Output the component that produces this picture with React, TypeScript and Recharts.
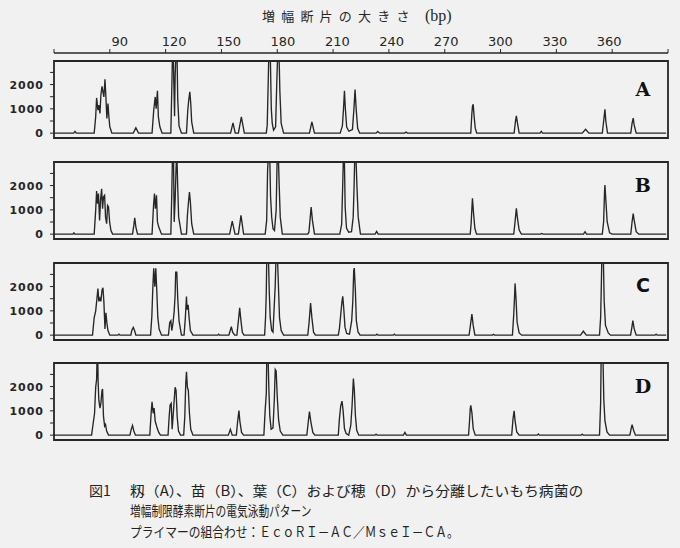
import React from "react";
import {
  LineChart, Line, XAxis, YAxis, ReferenceArea, ReferenceDot,
} from "recharts";

// fragment size (bp) axis and signal axis
const SIZE_TICKS = [60, 90, 120, 150, 180, 210, 240, 270, 300, 330, 360, 390];
const SIGNAL_TICKS = [0, 500, 1000, 1500, 2000, 2500];
const PANEL_NAMES = ["A", "B", "C", "D"];

// traces: [size in bp, signal]
// peaks running off the top are saturated, clipped by the plot box
const traceA: [number, number][] = [
  [60, 0], [70.6, 0], [71.3, 70], [72, 0],
  [81.6, 0], [82.4, 670], [82.9, 1450], [83.6, 945], [84.1, 1150], [84.7, 810], [85.2, 1560], [85.8, 1930],
  [86.3, 1700], [86.8, 1490], [87.4, 2220], [87.9, 1490], [88.4, 600], [89.0, 1220], [89.5, 670], [90.0, 260], [91.1, 0],
  [102.6, 0], [104.0, 220], [105.4, 0],
  [112.7, 0], [113.6, 945], [114.4, 1490], [114.9, 1010], [115.6, 1740], [116.1, 670], [116.9, 260], [118.1, 0],
  [122.8, 0], [123.3, 1800], [123.7, 3400], [124.1, 3400], [124.4, 2100], [124.8, 700], [125.1, 2300], [125.6, 3400],
  [126.1, 3400], [126.5, 1400], [127.2, 300], [128.5, 0],
  [131.2, 0], [131.9, 945], [132.4, 1355], [133.0, 1700], [133.5, 1220], [134.0, 465], [135.1, 0],
  [154.9, 0], [156.2, 425], [157.4, 0], [159.1, 0], [160.7, 670], [162.3, 0],
  [174.1, 0], [174.6, 330], [175.1, 2000], [175.5, 3400], [176.2, 3400], [176.8, 1000], [177.3, 400], [178.0, 120],
  [179.1, 260], [179.8, 2250], [180.3, 3400], [180.9, 3400], [181.4, 1700], [182.1, 400], [183.4, 0],
  [197.3, 0], [198.6, 465], [200.0, 0],
  [213.8, 0], [215.0, 300], [215.6, 1000], [216.1, 1740], [216.6, 1000], [217.3, 250], [218.5, 80], [220.4, 150],
  [221.2, 1000], [221.8, 1800], [222.4, 1000], [223.2, 200], [224.3, 0],
  [233.1, 0], [234.0, 70], [235.0, 0],
  [248.4, 0], [249.2, 40], [250.0, 0],
  [284.0, 0], [284.6, 820], [284.9, 1095], [285.3, 1190], [285.8, 685], [286.4, 205], [287.2, 0],
  [307.3, 0], [308.0, 480], [308.5, 710], [309.1, 410], [310.0, 0],
  [321.2, 0], [321.9, 70], [322.6, 0],
  [343.9, 0], [345.7, 160], [347.5, 0],
  [354.7, 0], [355.5, 550], [356.1, 985], [356.6, 480], [357.5, 0],
  [370.0, 0], [370.7, 410], [371.3, 616], [371.8, 340], [372.9, 0],
  [389, 0],
];

const traceB: [number, number][] = [
  [60, 0], [70.2, 0], [70.7, 50], [71.2, 0],
  [81.6, 0], [82.4, 980], [82.9, 1776], [83.4, 1250], [83.9, 1670], [84.5, 565], [85.0, 1390], [85.6, 1870],
  [86.1, 1050], [86.6, 1530], [87.2, 1600], [87.7, 700], [88.3, 430], [88.8, 1180], [89.3, 1115], [89.9, 500], [90.6, 150], [91.5, 0],
  [102.2, 0], [102.9, 360], [103.4, 675], [104.0, 290], [104.9, 0],
  [112.7, 0], [113.5, 1180], [114.0, 1670], [114.5, 1050], [115.1, 1600], [115.6, 500], [116.3, 290], [117.8, 0],
  [122.8, 0], [123.3, 1670], [123.7, 3400], [124.2, 3400], [124.6, 500], [125.1, 1390], [125.6, 2700], [126.0, 3400],
  [126.5, 1940], [127.0, 700], [128.5, 0],
  [131.2, 0], [131.7, 770], [132.2, 1250], [132.8, 1735], [133.3, 1320], [134.0, 430], [135.1, 0],
  [154.4, 0], [155.8, 537], [157.3, 0], [159.1, 0], [160.5, 770], [161.9, 0],
  [173.5, 0], [174.3, 565], [174.8, 2630], [175.3, 3400], [175.9, 3400], [176.4, 1530], [177.0, 700], [177.7, 220],
  [178.5, 150], [179.4, 980], [180.0, 3400], [180.5, 3400], [181.0, 2080], [181.6, 700], [182.7, 0],
  [196.4, 0], [197.0, 80], [197.5, 500], [198.2, 1115], [198.9, 565], [200.0, 0],
  [213.6, 0], [214.6, 400], [215.2, 2100], [215.6, 3400], [216.0, 3400], [216.5, 1100], [217.2, 250], [218.4, 80],
  [219.9, 100], [220.8, 700], [221.3, 2000], [221.7, 3400], [222.2, 3400], [222.8, 2000], [223.5, 700], [224.7, 0],
  [232.6, 0], [233.4, 110], [234.2, 0],
  [283.7, 0], [284.2, 440], [284.6, 1060], [284.9, 1475], [285.5, 850], [286.2, 235], [287.1, 0],
  [307.1, 0], [307.8, 510], [308.5, 1060], [309.1, 650], [310.0, 165], [311.2, 0],
  [321.4, 0], [322.1, 30], [322.8, 0],
  [344.6, 0], [345.4, 100], [346.2, 0],
  [354.7, 0], [355.4, 510], [355.9, 1750], [356.1, 2020], [356.6, 1400], [357.3, 510], [358.6, 55], [360, 0],
  [370.0, 0], [370.7, 510], [371.3, 850], [371.8, 580], [372.9, 100], [374.3, 0],
  [389, 0],
];

const traceC: [number, number][] = [
  [60, 0],
  [80.7, 0], [81.6, 720], [82.4, 990], [83.1, 1520], [83.6, 1920], [84.1, 1390], [84.7, 1520], [85.2, 1390],
  [85.8, 1850], [86.3, 1950], [86.8, 1390], [87.4, 250], [87.9, 920], [88.4, 520], [89.0, 190], [90.0, 0],
  [94.3, 0], [94.9, 40], [95.5, 0],
  [101.3, 0], [101.8, 190], [102.6, 320], [103.3, 190], [104.0, 0],
  [111.9, 0], [112.6, 790], [113.1, 1920], [113.6, 2750], [114.2, 1990], [114.7, 2750], [115.2, 1920], [115.8, 720],
  [116.5, 250], [117.8, 0],
  [121.5, 0], [122.2, 520], [122.8, 590], [123.3, 190], [124.0, 520], [124.6, 990], [125.1, 1650], [125.4, 2590],
  [126.0, 2590], [126.5, 1520], [127.2, 590], [128.5, 0],
  [129.9, 0], [130.6, 720], [131.2, 1590], [131.5, 1050], [132.1, 1250], [132.6, 720], [133.3, 190], [134.7, 0],
  [148.0, 0], [148.5, 40], [149.0, 0],
  [154.0, 0], [154.8, 210], [155.3, 350], [156.0, 120], [157.1, 0],
  [158.3, 0], [159.1, 590], [159.8, 1120], [160.3, 720], [161.2, 120], [162.1, 0],
  [173.2, 0], [173.7, 720], [174.1, 1790], [174.4, 3400], [175.2, 3400], [175.7, 1790], [176.2, 720], [177.0, 190],
  [177.7, 120], [178.4, 1250], [178.9, 2050], [179.4, 3400], [180.0, 3400], [180.5, 2320], [181.2, 720], [182.1, 190], [183.4, 0],
  [196.4, 0], [197.1, 520], [197.9, 1320], [198.6, 720], [199.5, 120], [200.5, 0],
  [212.8, 0], [213.4, 270], [214.3, 1000], [214.8, 1400], [215.2, 1600], [215.7, 1130], [216.4, 330], [217.3, 70],
  [218.8, 40], [220.0, 600], [220.6, 1400], [221.1, 2670], [221.4, 2760], [222.0, 1800], [222.5, 600], [223.4, 130], [224.5, 0],
  [233.0, 0], [233.6, 40], [234.2, 0], [242.3, 0], [242.9, 40], [243.5, 0],
  [283.1, 0], [283.8, 400], [284.6, 870], [285.3, 400], [286.2, 0],
  [295.6, 0], [296.2, 30], [296.8, 0],
  [306.4, 0], [307.1, 870], [307.5, 1530], [307.8, 2130], [308.3, 1530], [308.9, 530], [310.0, 90], [311.4, 0],
  [343.0, 0], [344.5, 160], [346.1, 0],
  [353.2, 0], [353.8, 730], [354.1, 1800], [354.5, 3400], [355.2, 3400], [355.7, 1400], [356.4, 400], [357.9, 90], [359.1, 0],
  [369.9, 0], [370.6, 330], [371.1, 600], [371.8, 270], [372.9, 0],
  [383.0, 0], [383.6, 40], [384.2, 0],
  [389, 0],
];

const traceD: [number, number][] = [
  [60, 0],
  [80.2, 0], [81.1, 510], [81.8, 900], [82.4, 1970], [82.9, 2300], [83.2, 3400], [83.5, 3400], [83.7, 2240],
  [84.1, 1440], [84.7, 1110], [85.2, 1310], [85.8, 1840], [86.1, 1900], [86.6, 770], [87.2, 370], [87.7, 440],
  [88.3, 170], [89.3, 0],
  [100.8, 0], [101.5, 240], [102.2, 400], [102.9, 170], [103.8, 0],
  [111.5, 0], [112.2, 900], [112.7, 1370], [113.3, 900], [113.8, 1110], [114.4, 570], [114.9, 440], [115.4, 300],
  [116.3, 110], [117.2, 0],
  [121.3, 0], [121.9, 770], [122.4, 1240], [123.0, 1310], [123.5, 240], [124.0, 770], [124.6, 1440], [125.1, 1970],
  [125.6, 1840], [126.2, 770], [126.9, 170], [128.0, 0],
  [129.7, 0], [130.3, 770], [130.8, 2110], [131.2, 2610], [131.7, 1970], [132.2, 1840], [132.8, 900], [133.5, 240], [134.7, 0],
  [153.7, 0], [154.8, 240], [155.8, 0],
  [158.0, 0], [158.7, 570], [159.4, 1010], [159.9, 570], [160.8, 110], [161.9, 0],
  [172.8, 0], [173.5, 1040], [174.1, 1710], [174.4, 3400], [175.0, 3400], [175.5, 1840], [176.0, 770], [176.7, 240],
  [177.7, 300], [178.4, 1440], [178.9, 2700], [179.4, 2640], [180.0, 1570], [180.7, 640], [181.6, 170], [183.0, 0],
  [195.9, 0], [196.6, 510], [197.3, 970], [198.0, 570], [199.1, 110], [200.2, 0],
  [212.8, 0], [213.4, 670], [214.1, 1200], [214.8, 1400], [215.4, 1000], [216.1, 270], [217.0, 70], [218.4, 0],
  [219.5, 400], [220.2, 1200], [220.9, 2330], [221.4, 1870], [222.0, 800], [222.7, 200], [223.8, 0],
  [232.5, 0], [233.1, 40], [233.7, 0], [247.8, 0], [248.6, 110], [249.4, 0],
  [282.8, 0], [283.3, 530], [283.7, 1070], [284.0, 1230], [284.6, 930], [285.3, 270], [286.4, 0],
  [306.0, 0], [306.7, 670], [307.3, 1000], [307.8, 600], [308.7, 130], [310.0, 0],
  [319.7, 0], [320.3, 50], [320.9, 0], [343.3, 0], [343.9, 40], [344.5, 0],
  [353.2, 0], [353.8, 1330], [354.1, 3400], [355.0, 3400], [355.5, 1470], [356.1, 600], [357.2, 130], [358.6, 0],
  [369.5, 0], [370.2, 270], [370.7, 430], [371.5, 200], [372.5, 0],
  [389, 0],
];

const TRACES = [traceA, traceB, traceC, traceD];

const X_DOMAIN: [number, number] = [60, 390];
const Y_DOMAIN: [number, number] = [-200, 2970];

const PANEL_TOPS = [59, 160, 261, 361];
const LABEL_Y = [1800, 2000, 2030, 2010];
const LABEL_FONT = ["DejaVu Serif", "DejaVu Serif", "DejaVu Sans", "DejaVu Serif"];

const INK = "#262626";
const JP_FONT = "'Noto Sans CJK JP', sans-serif";

function SizeTick({ x, y, payload }: any) {
  const v = payload.value;
  if (v === 60 || v === 390) return null;
  // labels in the scan sit a little right of their ticks on the left side
  const dx = 10 - (13 * (v - 90)) / 270;
  return (
    <text x={x + dx} y={y} textAnchor="middle" fontSize={13} fontFamily="DejaVu Sans" fill={INK}>
      {v}
    </text>
  );
}

function SignalTick({ x, y, payload }: any) {
  if (payload.value % 1000 !== 0) return null;
  return (
    <text x={x + 1} y={y} dy={4} textAnchor="end" fontSize={11} fontWeight="bold" fontFamily="DejaVu Sans" letterSpacing={1} fill={INK}>
      {payload.value}
    </text>
  );
}

function SizeAxis() {
  const data = traceA.map(([bp, v]) => ({ bp, v }));
  return (
    <div style={{ position: "absolute", left: 0, top: 0 }}>
      <LineChart width={680} height={60} data={data} margin={{ top: 0, right: 12, bottom: 0, left: 54 }}>
        <XAxis
          dataKey="bp"
          type="number"
          orientation="top"
          domain={X_DOMAIN}
          ticks={SIZE_TICKS}
          interval={0}
          height={53}
          axisLine={{ stroke: INK, strokeWidth: 1.5 }}
          tickLine={{ stroke: INK }}
          tickSize={4}
          tickMargin={3}
          tick={SizeTick}
        />
        <YAxis hide domain={Y_DOMAIN} />
      </LineChart>
    </div>
  );
}

function Panel({ index }: { index: number }) {
  const data = TRACES[index].map(([bp, v]) => ({ bp, v }));
  const name = PANEL_NAMES[index];
  return (
    <div style={{ position: "absolute", left: 0, top: PANEL_TOPS[index] }}>
      <LineChart width={680} height={81} data={data} margin={{ top: 2, right: 12, bottom: 2, left: 0 }}>
        <XAxis dataKey="bp" type="number" domain={X_DOMAIN} hide allowDataOverflow />
        <YAxis
          type="number"
          domain={Y_DOMAIN}
          allowDataOverflow
          width={54}
          ticks={SIGNAL_TICKS}
          interval={0}
          axisLine={false}
          tickLine={{ stroke: INK }}
          tickSize={4}
          tickMargin={7}
          tick={SignalTick}
        />
        <ReferenceArea
          x1={X_DOMAIN[0]}
          x2={X_DOMAIN[1]}
          y1={Y_DOMAIN[0]}
          y2={Y_DOMAIN[1]}
          fill="none"
          stroke={INK}
          strokeWidth={1.8}
        />
        <Line dataKey="v" type="linear" stroke={INK} strokeWidth={1.35} dot={false} isAnimationActive={false} />
        <ReferenceDot
          x={376.5}
          y={LABEL_Y[index]}
          r={10}
          shape={(p: any) => (
            <text
              x={p.cx}
              y={p.cy}
              dy={6.5}
              textAnchor="middle"
              fontSize={19}
              fontWeight="bold"
              fontFamily={LABEL_FONT[index]}
              fill="#111"
            >
              {name}
            </text>
          )}
        />
      </LineChart>
    </div>
  );
}

export default function App() {
  return (
    <div
      style={{
        position: "fixed",
        left: 0,
        top: 0,
        width: 680,
        height: 548,
        background: "#f1f1f1",
        overflow: "hidden",
      }}
    >
      <SizeAxis />
      {PANEL_NAMES.map((n, i) => (
        <Panel key={n} index={i} />
      ))}
      <svg width={680} height={548} style={{ position: "absolute", left: 0, top: 0, pointerEvents: "none" }}>
        <text x={262} y={21} fontSize={13} fontFamily={JP_FONT} fill={INK} letterSpacing={6.2}>
          増幅断片の大きさ
        </text>
        <text x={425} y={21} fontSize={16} fontFamily="Liberation Serif" fill={INK}>
          (bp)
        </text>
        <g fontFamily={JP_FONT} fontSize={14} fill="#222">
          <text x={89} y={496}>図1</text>
          <text transform="translate(130 496) scale(1.06 1)">
            籾（A）、苗（B）、葉（C）および穂（D）から分離したいもち病菌の
          </text>
          <text transform="translate(130 516) scale(0.765 1)">
            増幅制限酵素断片の電気泳動パターン
          </text>
          <text transform="translate(130 537) scale(0.84 1)">
            プライマーの組合わせ：ＥｃｏＲＩ－ＡＣ／ＭｓｅＩ－ＣＡ。
          </text>
        </g>
      </svg>
    </div>
  );
}
